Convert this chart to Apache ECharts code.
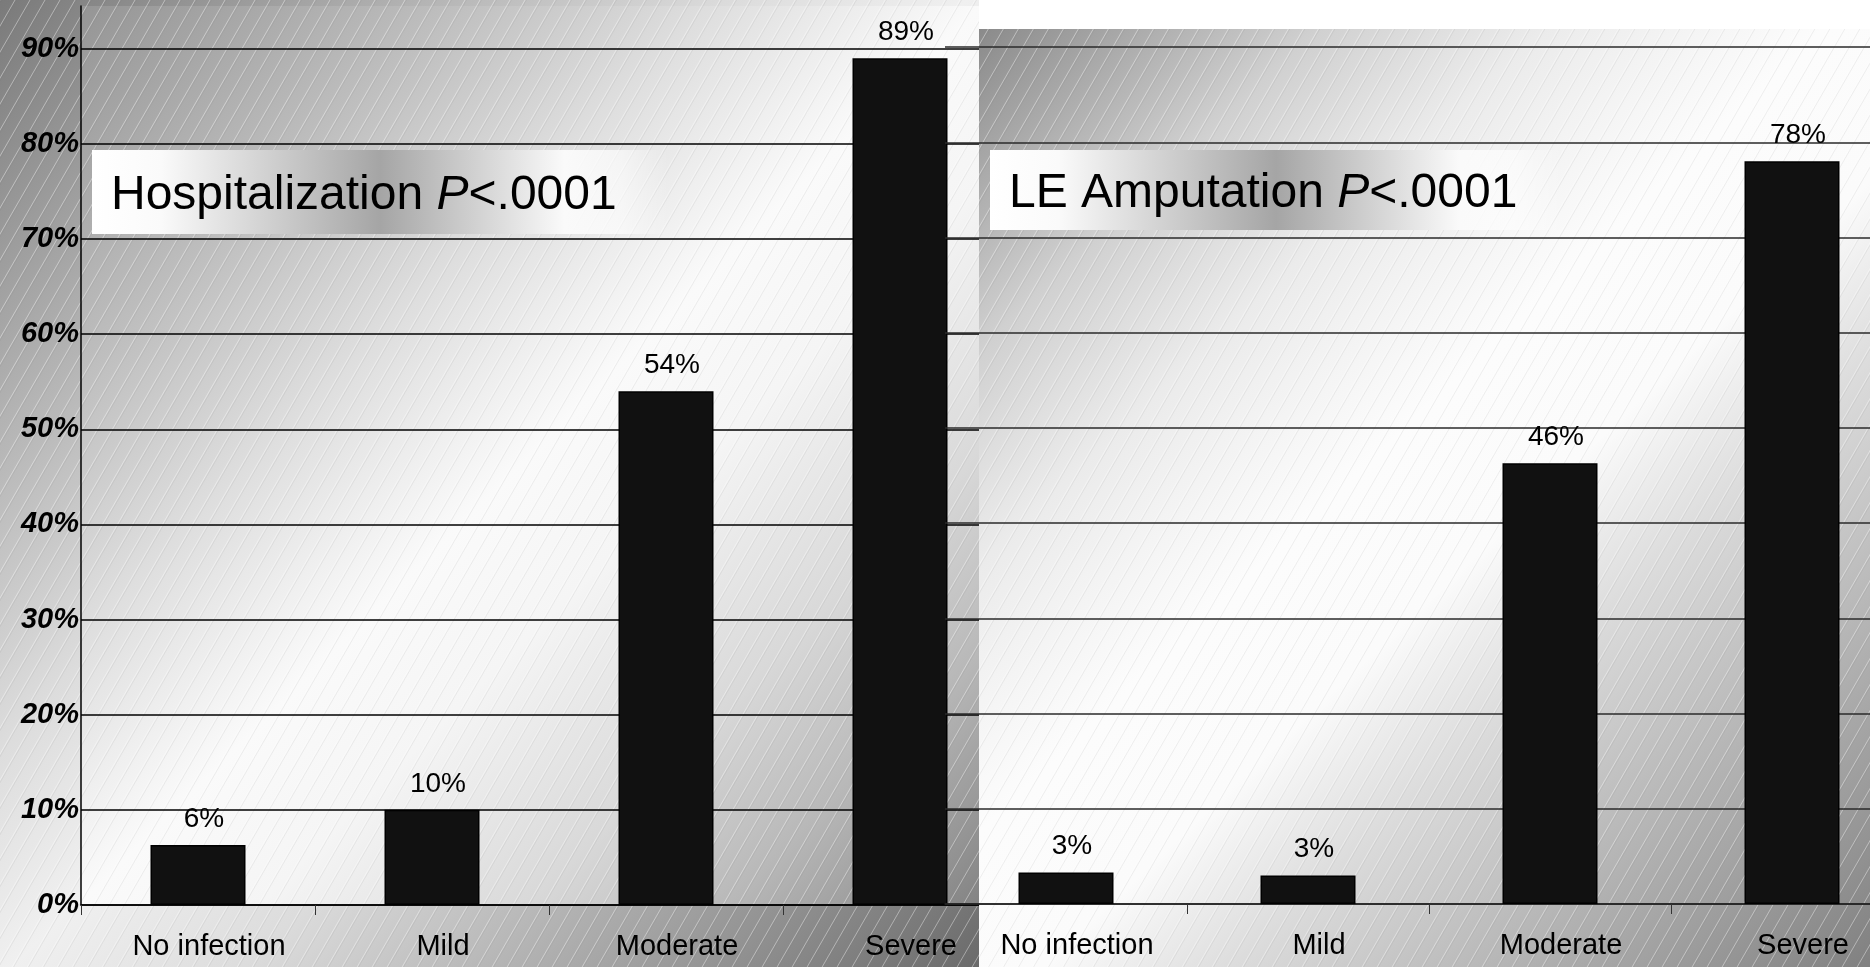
<!DOCTYPE html>
<html><head><meta charset="utf-8">
<script src="https://cdn.jsdelivr.net/npm/echarts@6/dist/echarts.min.js"></script>
<style>html,body{margin:0;padding:0;background:#fff}#c{width:1870px;height:967px}</style>
</head><body><div id="c"></div>
<script>
const categories = ['No infection', 'Mild', 'Moderate', 'Severe'];
const hospitalizationValues = [6.3, 10, 54, 89];
const amputationValues = [3.3, 3.0, 46.3, 78];
const leftTitle = ['Hospitalization ', 'P', '<.0001'];
const rightTitle = ['LE Amputation ', 'P', '<.0001'];

const FONT = '"Liberation Sans", Arial, sans-serif';
const L = {left: 81, top: 6, width: 936, height: 899, max: 94.5, panelW: 979};
const R = {left: 945, top: 29, width: 968, height: 875, max: 91.9, panelX: 979};

function hatchCanvas() {
  const c = document.createElement('canvas');
  const w = 15, h = 26;
  c.width = w; c.height = h;
  const g = c.getContext('2d');
  [[-w,0],[0,0],[w,0]].forEach(([dx]) => {
    g.strokeStyle = 'rgba(255,255,255,0.4)'; g.lineWidth = 1;
    g.beginPath(); g.moveTo(dx, h); g.lineTo(dx + w, 0); g.stroke();
    g.strokeStyle = 'rgba(110,110,110,0.1)';
    g.beginPath(); g.moveTo(dx + 1.5, h); g.lineTo(dx + w + 1.5, 0); g.stroke();
  });
  return c;
}
const hatch = {image: hatchCanvas(), repeat: 'repeat'};

function lg(stops) {
  return {type: 'linear', x: 0, y: 0, x2: 1, y2: 1,
    colorStops: stops.map(s => ({offset: s[0], color: s[1]}))};
}
function titleBox(x, y, w, h, parts, zl) {
  return {type: 'group', zlevel: zl, z: 3, children: [
    {type: 'rect', shape: {x: x, y: y, width: w, height: h}, z: 3, zlevel: zl,
     style: {fill: {type: 'linear', x: 0, y: 0, x2: 1, y2: 0, colorStops: [
       {offset: 0, color: 'rgba(255,255,255,1)'},
       {offset: 0.12, color: 'rgba(250,250,250,1)'},
       {offset: 0.5, color: 'rgba(165,165,165,1)'},
       {offset: 0.82, color: 'rgba(250,250,250,1)'},
       {offset: 0.92, color: 'rgba(255,255,255,0.6)'},
       {offset: 1, color: 'rgba(255,255,255,0)'}]}}},
    {type: 'text', x: x + 19, y: y + h / 2 + 4, z: 4, zlevel: zl,
     style: {text: '{n|' + parts[0] + '}{i|' + parts[1] + '}{n|' + parts[2] + '}',
       verticalAlign: 'middle',
       rich: {n: {fontSize: 48, fontFamily: FONT, fill: '#000', color: '#000'},
              i: {fontSize: 48, fontFamily: FONT, fontStyle: 'italic', fill: '#000', color: '#000'}}}}
  ]};
}

const chart = echarts.init(document.getElementById('c'), null, {renderer: 'canvas'});
const barLabel = {show: true, position: 'top', distance: 12, offset: [6, 0], fontSize: 28, fontFamily: FONT, color: '#000',
  formatter: p => Math.round(p.value) + '%'};
const barStyle = {color: '#111', borderColor: '#000', borderWidth: 1.5};
const catLabel = {fontSize: 29, fontFamily: FONT, color: '#000', margin: 27, padding: [0, 0, 0, 22]};

chart.setOption({
  backgroundColor: '#fff',
  animation: false,
  graphic: [
    // left panel
    {type: 'rect', zlevel: 0, z: 0, shape: {x: 0, y: 0, width: L.panelW, height: 967},
     style: {fill: lg([[0,'#7a7a7a'],[0.22,'#b4b4b4'],[0.38,'#dcdcdc'],[0.5,'#f0f0f0'],[0.62,'#dcdcdc'],[0.8,'#a6a6a6'],[1,'#6a6a6a']])}},
    {type: 'rect', zlevel: 0, z: 1, shape: {x: L.left, y: L.top, width: L.panelW - L.left, height: L.height},
     style: {fill: lg([[0,'#959595'],[0.2,'#bdbdbd'],[0.35,'#dedede'],[0.5,'#fafafa'],[0.6,'#f5f5f5'],[0.75,'#d8d8d8'],[0.86,'#b8b8b8'],[1,'#838383']])}},
    {type: 'rect', zlevel: 0, z: 2, shape: {x: 0, y: 0, width: L.panelW, height: 967}, style: {fill: hatch}},
    titleBox(92, 150, 576, 84, leftTitle, 0),
    // right panel
    {type: 'rect', zlevel: 1, z: 0, shape: {x: R.panelX, y: R.top, width: 1870 - R.panelX, height: 967 - R.top},
     style: {fill: lg([[0,'#8a8a8a'],[0.18,'#d0d0d0'],[0.3,'#ebebeb'],[0.45,'#fcfcfc'],[0.56,'#fbfbfb'],[0.66,'#dcdcdc'],[0.85,'#a8a8a8'],[1,'#808080']])}},
    {type: 'rect', zlevel: 1, z: 2, shape: {x: R.panelX, y: R.top, width: 1870 - R.panelX, height: 967 - R.top}, style: {fill: hatch}},
    titleBox(990, 150, 572, 80, rightTitle, 1)
  ],
  grid: [
    {left: L.left, top: L.top, width: L.width, height: L.height, zlevel: 0, outerBoundsMode: 'none', containLabel: false},
    {left: R.left, top: R.top, width: R.width, height: R.height, zlevel: 1, outerBoundsMode: 'none', containLabel: false}
  ],
  xAxis: [
    {type: 'category', gridIndex: 0, data: categories, zlevel: 0, z: 5,
     axisLine: {lineStyle: {color: '#000', width: 1.5}},
     axisTick: {show: true, length: 10, lineStyle: {color: '#333', width: 1}},
     axisLabel: catLabel},
    {type: 'category', gridIndex: 1, data: categories, zlevel: 1, z: 5,
     axisLine: {lineStyle: {color: '#222', width: 1.5}},
     axisTick: {show: true, length: 10, interval: (i) => i !== 0, lineStyle: {color: '#333', width: 1}},
     axisLabel: catLabel}
  ],
  yAxis: [
    {type: 'value', gridIndex: 0, min: 0, max: L.max, interval: 10, zlevel: 0, z: 5,
     axisLine: {show: true, lineStyle: {color: '#000', width: 1.5}},
     axisTick: {show: false},
     axisLabel: {fontSize: 29, fontFamily: FONT, fontWeight: 'bold', fontStyle: 'italic', color: '#000', margin: 2,
       showMaxLabel: false, formatter: v => (v % 10 === 0 ? v + '%' : '')},
     splitLine: {show: true, showMaxLine: false, lineStyle: {color: '#000', width: 1.5}}},
    {type: 'value', gridIndex: 1, min: 0, max: R.max, interval: 10, zlevel: 1, z: 5,
     axisLine: {show: false}, axisTick: {show: false}, axisLabel: {show: false},
     splitLine: {show: true, showMaxLine: false, lineStyle: {color: '#2a2a2a', width: 1.5}}}
  ],
  series: [
    {type: 'bar', xAxisIndex: 0, yAxisIndex: 0, data: hospitalizationValues, barWidth: 95,
     zlevel: 0, z: 6, itemStyle: barStyle, label: barLabel},
    {type: 'bar', xAxisIndex: 1, yAxisIndex: 1, data: amputationValues, barWidth: 95,
     zlevel: 1, z: 6, itemStyle: barStyle, label: barLabel}
  ]
});
</script></body></html>
